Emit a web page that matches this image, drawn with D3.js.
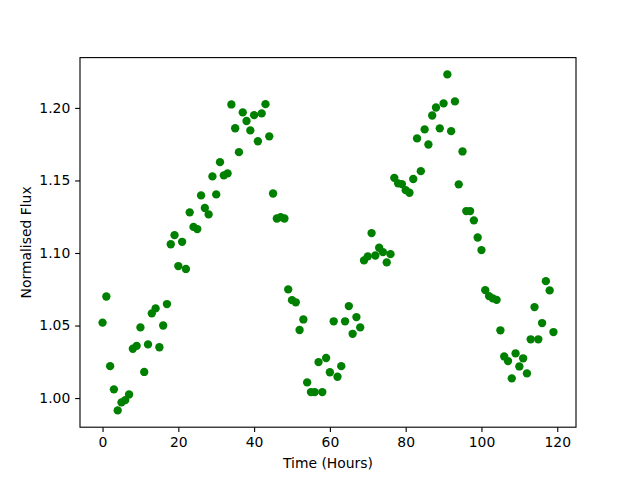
<!DOCTYPE html>
<html>
<head>
<meta charset="utf-8">
<script src="https://cdn.jsdelivr.net/npm/d3@7"></script>
<style>
  html, body { margin: 0; padding: 0; background: #fff; }
  svg { display: block; }
  text { font-family: "DejaVu Sans", sans-serif; }
</style>
</head>
<body>
<svg id="chart" width="640" height="480"></svg>
<script>
// Time in hours (one reading per hour)
const hours = d3.range(0, 120);
// Normalised flux values
const flux = [
  1.052, 1.070, 1.022, 1.006, 0.9915, 0.997, 0.9986, 1.0025, 1.034, 1.036,
  1.0487, 1.018, 1.037, 1.0584, 1.0618, 1.035, 1.050, 1.0648, 1.106, 1.1123,
  1.091, 1.1077, 1.089, 1.128, 1.118, 1.1165, 1.1397, 1.131, 1.1266, 1.1528,
  1.1404, 1.1626, 1.1535, 1.1549, 1.2024, 1.186, 1.1695, 1.1969, 1.191, 1.1845,
  1.195, 1.177, 1.1962, 1.2026, 1.1804, 1.141, 1.1238, 1.1247, 1.1238, 1.0749,
  1.0675, 1.066, 1.0469, 1.0542, 1.0108, 1.0041, 1.0041, 1.0248, 1.0041, 1.0276,
  1.0178, 1.0529, 1.0147, 1.022, 1.0529, 1.0634, 1.0443, 1.0558, 1.0487, 1.0949,
  1.0977, 1.1137, 1.0983, 1.1036, 1.1006, 1.0935, 1.0992, 1.1518, 1.148, 1.1475,
  1.1433, 1.1415, 1.151, 1.179, 1.1564, 1.1852, 1.1748, 1.1948, 1.2003, 1.1859,
  1.2031, 1.2231, 1.184, 1.2045, 1.1473, 1.170, 1.1289, 1.1289, 1.1225, 1.1107,
  1.102, 1.0744, 1.0703, 1.0687, 1.0677, 1.0467, 1.0287, 1.0255, 1.0136, 1.0308,
  1.0218, 1.0274, 1.017, 1.0405, 1.0627, 1.0405, 1.0517, 1.0806, 1.0742, 1.0455
];
const xTicks = [0, 20, 40, 60, 80, 100, 120];
const yTicks = [1.00, 1.05, 1.10, 1.15, 1.20];
const xLabel = "Time (Hours)";
const yLabel = "Normalised Flux";

(function () {
  const data = hours.map((h, i) => ({ x: h, y: flux[i] }));

  const W = 640, H = 480;
  const L = 80, R = 576, T = 57.6, B = 427.2;

  function padded(ext) {
    const m = (ext[1] - ext[0]) * 0.05;
    return [ext[0] - m, ext[1] + m];
  }
  const x = d3.scaleLinear().domain(padded(d3.extent(hours))).range([L, R]);
  const y = d3.scaleLinear().domain(padded(d3.extent(flux))).range([B, T]);

  const svg = d3.select("#chart");
  svg.append("rect").attr("width", W).attr("height", H).attr("fill", "#fff");

  // points
  svg.append("g").selectAll("circle").data(data).join("circle")
    .attr("cx", d => x(d.x)).attr("cy", d => y(d.y))
    .attr("r", 4.17).attr("fill", "#008000");

  // axes
  const tickLen = 4.86, pad = 4.86;
  const xAxis = d3.axisBottom(x).tickValues(xTicks).tickFormat(d3.format("d"))
    .tickSize(tickLen).tickPadding(pad).tickSizeOuter(0);
  const yAxis = d3.axisLeft(y).tickValues(yTicks).tickFormat(d3.format(".2f"))
    .tickSize(tickLen).tickPadding(pad).tickSizeOuter(0);

  const gx = svg.append("g").attr("transform", `translate(0,${B})`).call(xAxis);
  const gy = svg.append("g").attr("transform", `translate(${L},0)`).call(yAxis);
  [gx, gy].forEach(g => {
    g.select(".domain").remove();
    g.selectAll("line").attr("stroke", "#000").attr("stroke-width", 1.11);
    g.selectAll("text").attr("font-size", "13.9px").attr("fill", "#000")
      .attr("font-family", "DejaVu Sans, sans-serif");
  });

  // spines
  svg.append("rect")
    .attr("x", L).attr("y", T)
    .attr("width", R - L).attr("height", B - T)
    .attr("fill", "none").attr("stroke", "#000").attr("stroke-width", 1.11);

  // labels
  svg.append("text").attr("x", (L + R) / 2).attr("y", 468)
    .attr("text-anchor", "middle").attr("font-size", "13.9px").text(xLabel);
  svg.append("text")
    .attr("transform", `translate(31,${(T + B) / 2}) rotate(-90)`)
    .attr("text-anchor", "middle").attr("font-size", "13.9px").text(yLabel);
})();
</script>
</body>
</html>
